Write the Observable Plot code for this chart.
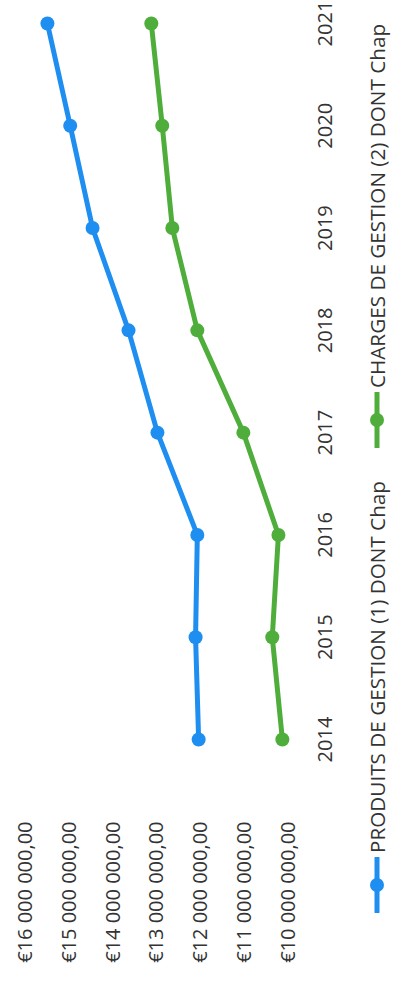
<!DOCTYPE html>
<html>
<head>
<meta charset="utf-8">
<script src="https://cdn.jsdelivr.net/npm/d3@7"></script>
<script src="https://cdn.jsdelivr.net/npm/@observablehq/plot@0.6"></script>
<style>
  html, body { margin: 0; padding: 0; background: #fff; overflow: hidden; }
  #frame {
    position: absolute; left: 0; top: 0; width: 984px; height: 395px;
    transform-origin: 0 0; transform: translateY(984px) rotate(-90deg);
    font-family: "Open Sans", sans-serif; color: #333; background: #fff;
  }
  #chart { position: absolute; left: 0; top: 0; }
  .leg { position: absolute; top: 363px; display: flex; align-items: center; font-size: 20.7px; white-space: nowrap; }
  .leg svg { margin-right: 4px; }
</style>
</head>
<body>
<div id="frame">
  <div id="chart"></div>
  <div class="leg" id="leg1" style="left:71px"></div>
  <div class="leg" id="leg2" style="left:536px"></div>
</div>
<script>
const years = [2014, 2015, 2016, 2017, 2018, 2019, 2020, 2021];
const produits = [12050000, 12120000, 12080000, 12990000, 13650000, 14470000, 14980000, 15500000];
const charges = [10140000, 10370000, 10230000, 11030000, 12080000, 12650000, 12880000, 13130000];
const seriesNames = ["PRODUITS DE GESTION (1) DONT Chap", "CHARGES DE GESTION (2) DONT Chap"];
const seriesColors = ["#1f8ef1", "#4fae3b"];
const valueTicks = [10000000, 11000000, 12000000, 13000000, 14000000, 15000000, 16000000];

const rows = [];
years.forEach((y, i) => {
  rows.push({year: y, value: produits[i], series: seriesNames[0]});
  rows.push({year: y, value: charges[i], series: seriesNames[1]});
});

const fr = d3.formatLocale({decimal: ",", thousands: "\u00a0", grouping: [3], currency: ["€", ""]});
const fmt = fr.format("$,.2f");

const chart = Plot.plot({
  width: 984,
  height: 355,
  marginLeft: 170,
  marginRight: 24,
  marginTop: 0,
  marginBottom: 50,
  style: {fontFamily: "Open Sans, sans-serif", fontSize: "20px", color: "#333", background: "transparent"},
  x: {domain: [2014, 2021], range: [244, 960], ticks: years, tickFormat: d => String(d), tickSize: 0, tickPadding: 12, label: null},
  y: {domain: [10000000, 16000000], range: [288, 25], ticks: valueTicks, tickFormat: fmt, tickSize: 0, tickPadding: 8, label: null},
  color: {domain: seriesNames, range: seriesColors},
  marks: [
    Plot.line(rows, {x: "year", y: "value", z: "series", stroke: "series", strokeWidth: 5, strokeLinejoin: "round"}),
    Plot.dot(rows, {x: "year", y: "value", fill: "series", r: 7})
  ]
});
document.getElementById("chart").appendChild(chart);

function legendItem(id, name, color) {
  const el = document.getElementById(id);
  el.innerHTML = `<svg width="56" height="16"><line x1="1" y1="8" x2="55" y2="8" stroke="${color}" stroke-width="5" stroke-linecap="round"/><circle cx="28" cy="8" r="7" fill="${color}"/></svg><span>${name}</span>`;
}
legendItem("leg1", seriesNames[0], seriesColors[0]);
legendItem("leg2", seriesNames[1], seriesColors[1]);
</script>
</body>
</html>
